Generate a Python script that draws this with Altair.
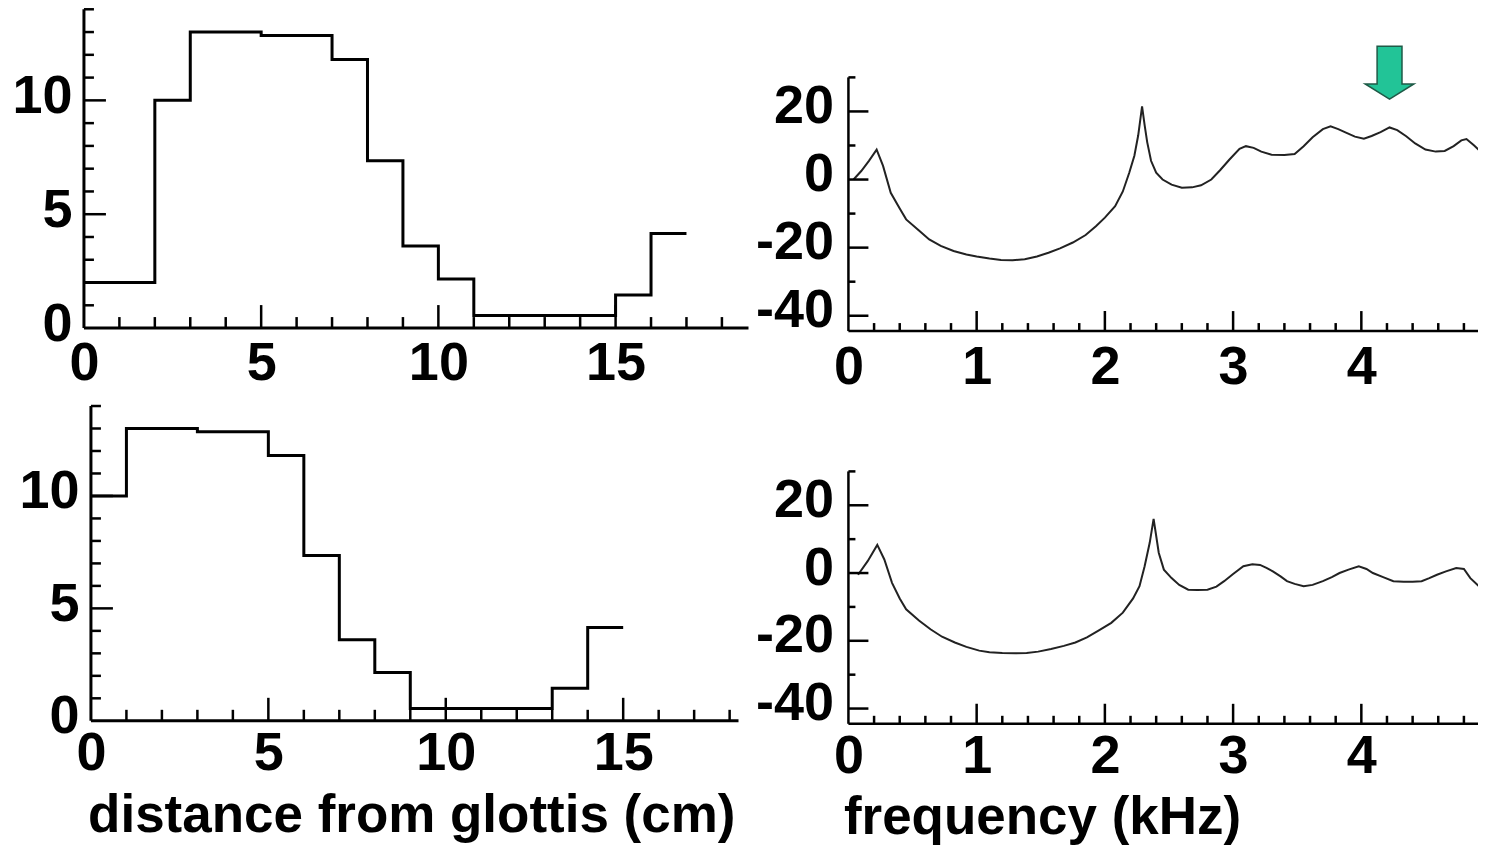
import altair as alt
import pandas as pd

# ---------------- data ----------------
# vocal tract area functions (distance from glottis in cm, area)
top_edges = [0, 2, 3, 5, 7, 8, 9, 10, 11, 15, 16, 17]
top_areas = [2.0, 10.0, 13.0, 12.85, 11.8, 7.35, 3.6, 2.15, 0.55, 1.45, 4.15, 4.15]
bot_edges = [0, 1, 3, 5, 6, 7, 8, 9, 13, 14, 15]
bot_areas = [10.0, 13.0, 12.85, 11.8, 7.35, 3.6, 2.15, 0.55, 1.45, 4.15, 4.15]

# transfer functions (frequency kHz, dB)
top_freq = [0.04, 0.10, 0.16, 0.22, 0.27, 0.33, 0.40, 0.45, 0.55, 0.63,
            0.72, 0.82, 0.92, 1.00, 1.10, 1.19, 1.28, 1.375, 1.47, 1.56,
            1.65, 1.75, 1.85, 1.93, 2.00, 2.08, 2.14, 2.19, 2.23, 2.26,
            2.29, 2.31, 2.33, 2.36, 2.40, 2.45, 2.52, 2.60, 2.68, 2.75,
            2.83, 2.90, 2.97, 3.05, 3.10, 3.16, 3.22, 3.30, 3.40, 3.48,
            3.55, 3.62, 3.70, 3.76, 3.82, 3.88, 3.95, 4.02, 4.08, 4.15,
            4.22, 4.28, 4.35, 4.42, 4.50, 4.58, 4.65, 4.72, 4.78, 4.82,
            4.88, 4.98]
top_db = [0, 2.5, 5.5, 8.8, 4, -3.9, -8.5, -11.7, -15, -17.6,
          -19.5, -21, -22, -22.6, -23.2, -23.6, -23.7, -23.4, -22.6, -21.5,
          -20.2, -18.5, -16.3, -13.7, -11.2, -7.8, -3.5, 2, 7, 13,
          21.5, 16, 11, 5.5, 2.0, 0, -1.5, -2.4, -2.3, -1.7,
          0, 2.8, 5.8, 9, 9.8, 9.3, 8.2, 7.3, 7.2, 7.5,
          9.8, 12.4, 14.8, 15.6, 14.8, 13.8, 12.6, 12, 12.8, 13.9,
          15.3, 14.5, 12.7, 10.6, 8.8, 8.2, 8.4, 9.8, 11.5, 11.9,
          10, 6.5]
bot_freq = [0.075, 0.15, 0.225, 0.28, 0.34, 0.40, 0.45, 0.55, 0.64, 0.73,
            0.83, 0.92, 1.02, 1.10, 1.20, 1.30, 1.39, 1.48, 1.58, 1.68,
            1.77, 1.86, 1.95, 2.05, 2.14, 2.22, 2.27, 2.31, 2.35, 2.38,
            2.40, 2.42, 2.46, 2.52, 2.58, 2.65, 2.72, 2.80, 2.87, 2.93,
            3.00, 3.08, 3.15, 3.21, 3.26, 3.31, 3.37, 3.42, 3.48, 3.55,
            3.62, 3.70, 3.77, 3.83, 3.90, 3.98, 4.04, 4.09, 4.17, 4.25,
            4.33, 4.40, 4.47, 4.53, 4.59, 4.66, 4.74, 4.80, 4.85, 4.92,
            4.98]
bot_db = [-0.5, 3.5, 8.3, 4, -2.9, -7.5, -10.7, -14, -16.6, -18.8,
          -20.5, -21.8, -22.9, -23.4, -23.6, -23.7, -23.6, -23.2, -22.4, -21.5,
          -20.5, -19, -17, -14.7, -11.7, -7.5, -3.9, 2, 9, 16,
          11, 6, 1, -1.5, -3.5, -4.9, -5, -4.9, -4, -2.4,
          -0.3, 2, 2.6, 2.4, 1.5, 0.5, -1, -2.4, -3.2, -3.9,
          -3.5, -2.4, -1.2, 0, 1, 2, 1.2, 0, -1.2, -2.4,
          -2.6, -2.6, -2.4, -1.5, -0.5, 0.5, 1.5, 1.2, -1.5, -4,
          -6.0]

# tick values
area_x_labels = [0, 5, 10, 15]
area_y_labels = [0, 5, 10]
area_x_minor = [1, 2, 3, 4, 6, 7, 8, 9, 11, 12, 13, 14, 16, 17, 18]
area_x_major = [5, 10, 15]
area_y_minor = [1, 2, 3, 4, 6, 7, 8, 9, 11, 12, 13, 14]
area_y_major = [5, 10]

spec_x_labels = [0, 1, 2, 3, 4]
spec_y_labels = [20, 0, -20, -40]
spec_x_minor = [0.2, 0.4, 0.6, 0.8, 1.2, 1.4, 1.6, 1.8, 2.2, 2.4, 2.6, 2.8,
                3.2, 3.4, 3.6, 3.8, 4.2, 4.4, 4.6, 4.8]
spec_x_major = [1, 2, 3, 4]
spec_y_minor = [30, 10, -10, -30]
spec_y_major = [20, 0, -20, -40]

arrow_freq = [4.22]
arrow_db = [31.4]

FONT = "Liberation Sans"
ARROW = "M-0.47,-1 L0.47,-1 L0.47,0.43 L0.92,0.43 L0,1 L-0.92,0.43 L-0.47,0.43 Z"


def label_axis(values, pad, title=None, offset=0, anchor=None, tpad=0):
    kw = dict(values=values, domain=False, ticks=False, tickSize=0, grid=False,
              labelFont=FONT, labelFontWeight="bold", labelFontSize=54,
              labelColor="black", labelPadding=pad, labelFlush=False,
              labelExpr="'' + datum.value", labelOffset=offset, title=title)
    if title:
        kw.update(titleFont=FONT, titleFontWeight="bold",
                  titleFontSize=53, titleColor="black", titlePadding=tpad)
        if anchor:
            kw.update(titleAnchor=anchor, titleAlign="left", titleX=-5)
    return alt.Axis(**kw)


def frame_layers(xs, ys, xa, ya, x0, x1, y0, y1, xmin, xmaj, ymin, ymaj,
                 xl, xL, yl, yL, lw):
    axes_df = pd.DataFrame({"x": [x0, x0], "x2": [x1, x0],
                            "y": [y0, y0], "y2": [y0, y1]})
    rules = alt.Chart(axes_df).mark_rule(color="black", strokeWidth=lw).encode(
        x=alt.X("x:Q", scale=xs, axis=xa), x2="x2:Q",
        y=alt.Y("y:Q", scale=ys, axis=ya), y2="y2:Q")
    layers = [rules]
    for vals, ln in ((xmin, xl), (xmaj, xL)):
        d = pd.DataFrame({"v": vals, "b": [y0] * len(vals)})
        layers.append(alt.Chart(d).mark_tick(
            orient="vertical", size=ln, thickness=2.5, yOffset=-ln / 2,
            color="black", opacity=1).encode(
            x=alt.X("v:Q", scale=xs, axis=xa),
            y=alt.Y("b:Q", scale=ys, axis=ya)))
    for vals, ln in ((ymin, yl), (ymaj, yL)):
        d = pd.DataFrame({"v": vals, "b": [x0] * len(vals)})
        layers.append(alt.Chart(d).mark_tick(
            orient="horizontal", size=ln, thickness=2.5, xOffset=ln / 2,
            color="black", opacity=1).encode(
            y=alt.Y("v:Q", scale=ys, axis=ya),
            x=alt.X("b:Q", scale=xs, axis=xa)))
    return layers


def area_panel(edges, areas, xlo, xmax, width, height, ypad, xpad,
               title=None):
    xs = alt.Scale(domain=[xlo, xmax], nice=False, zero=False)
    ys = alt.Scale(domain=[0, 14], nice=False, zero=False)
    xa = label_axis(area_x_labels, xpad, title=title, tpad=9)
    ya = label_axis(area_y_labels, ypad, offset=-4)
    df = pd.DataFrame({"x": edges, "a": areas})
    line = alt.Chart(df).mark_line(interpolate="step-after", color="black",
                                   strokeWidth=3).encode(
        x=alt.X("x:Q", scale=xs, axis=xa),
        y=alt.Y("a:Q", scale=ys, axis=ya))
    layers = [line] + frame_layers(xs, ys, xa, ya, 0, xmax, 0, 14,
                                   area_x_minor, area_x_major,
                                   area_y_minor, area_y_major,
                                   11, 23, 10, 22, 3)
    return alt.layer(*layers).properties(width=width, height=height)


def spec_panel(freq, db, width, height, ytop, xpad, title=None,
               arrow=False):
    xs = alt.Scale(domain=[0, 4.98], nice=False, zero=False)
    ys = alt.Scale(domain=[-44.5, ytop], nice=False, zero=False)
    xa = label_axis(spec_x_labels, xpad, title=title, anchor="start", tpad=8)
    ya = label_axis(spec_y_labels, 15, offset=-5)
    df = pd.DataFrame({"f": freq, "db": db})
    line = alt.Chart(df).mark_line(color="#222222", strokeWidth=2).encode(
        x=alt.X("f:Q", scale=xs, axis=xa),
        y=alt.Y("db:Q", scale=ys, axis=ya))
    layers = [line] + frame_layers(xs, ys, xa, ya, 0, 4.98, -44.5, 30,
                                   spec_x_minor, spec_x_major,
                                   spec_y_minor, spec_y_major,
                                   8, 20, 7, 20, 2.5)
    if arrow:
        ad = pd.DataFrame({"f": arrow_freq, "db": arrow_db})
        layers.append(alt.Chart(ad).mark_point(
            shape=ARROW, filled=True, fill="#22c497", stroke="#1f5a47",
            strokeWidth=1.5, size=2809, opacity=1).encode(
            x=alt.X("f:Q", scale=xs, axis=xa),
            y=alt.Y("db:Q", scale=ys, axis=ya)))
    return alt.layer(*layers).properties(width=width, height=height)


tl = area_panel(top_edges, top_areas, 0, 18.75, 665, 319, 12, 8)
bl = area_panel(bot_edges, bot_areas, -0.197, 18.25, 655, 315, 5, 6,
                title="distance from glottis (cm)")
tr = spec_panel(top_freq, top_db, 639, 322, 50, 9, arrow=True)
br = spec_panel(bot_freq, bot_db, 639, 318, 49.3, 6,
                title="frequency (kHz)")

chart = alt.concat(tl, tr, bl, br, columns=2).properties(
    align="each",
    spacing={"row": 10, "column": 4},
    padding={"left": 3, "top": -1, "right": -13, "bottom": 0},
    background="white",
).configure_view(stroke=None)

chart.save("out.html", embed_options={"renderer": "svg", "actions": False})
